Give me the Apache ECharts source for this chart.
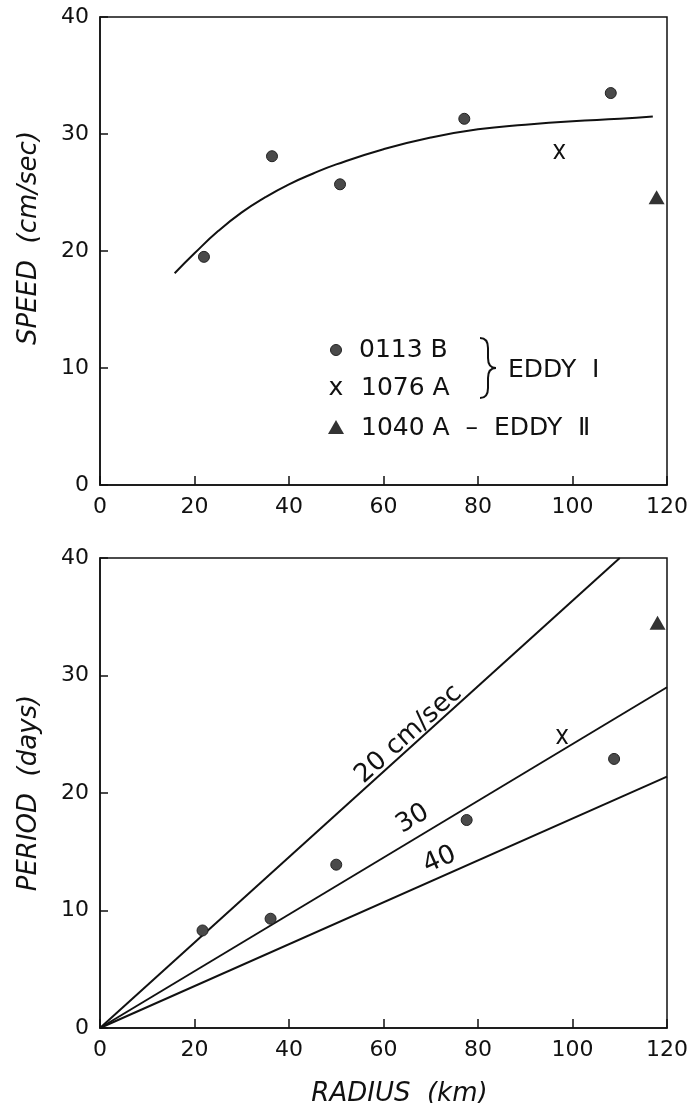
<!DOCTYPE html>
<html>
<head>
<meta charset="utf-8">
<script src="https://cdn.jsdelivr.net/npm/echarts@6/dist/echarts.min.js"></script>
<style>
  html, body { margin: 0; padding: 0; background: #fff; }
  #chart { width: 696px; height: 1103px; }
</style>
</head>
<body>
<div id="chart"></div>
<script>
// top panel: speed vs radius
var speedCurve = [[15.8,18.1],[20,19.8],[25,21.7],[30,23.3],[35,24.6],[40,25.7],[45,26.6],[50,27.4],
  [60,28.7],[70,29.7],[80,30.4],[90,30.8],[100,31.1],[110,31.3],[117,31.5]];
var speed0113B = [[22.0,19.5],[36.4,28.1],[50.8,25.7],[77.1,31.3],[108.1,33.5]];
var speed1076A = [[97.2,28.5]];
var speed1040A = [[117.8,24.6]];

// bottom panel: period vs radius
var period0113B = [[21.7,8.3],[36.1,9.3],[50.0,13.9],[77.6,17.7],[108.8,22.9]];
var period1076A = [[97.8,24.8]];
var period1040A = [[118.0,34.5]];
var line20 = [[0,0],[110,40]];
var line30 = [[0,0],[120,29.0]];
var line40 = [[0,0],[120,21.4]];
var lineLabels = [
  {text: '20 cm/sec', value: [65.3,25.0], angle: 42},
  {text: '30', value: [66.2,17.8], angle: 31},
  {text: '40', value: [71.9,14.3], angle: 24}
];

var FONT = 'DejaVu Sans';
var INK = '#111';
var DOT = '#4a4a4a';
var crossPath = 'path://M0,0 L2.4,0 L6,5 L9.6,0 L12,0 L7.2,6.5 L12,13 L9.6,13 L6,8 L2.4,13 L0,13 L4.8,6.5 Z';

function xAxisCfg(idx, name) {
  return {
    type: 'value', gridIndex: idx, min: 0, max: 120, interval: 20,
    name: name, nameLocation: 'middle', nameGap: 53,
    nameTextStyle: {fontFamily: FONT, fontSize: 26, fontStyle: 'italic', color: INK, padding: [0, 0, 0, 32]},
    axisLine: {show: true, lineStyle: {color: INK, width: 1.5}},
    axisTick: {show: true, inside: true, length: 9, lineStyle: {color: INK, width: 1.5}},
    axisLabel: {fontFamily: FONT, fontSize: 22, color: INK, margin: 11},
    splitLine: {show: false}
  };
}
function yAxisCfg(idx, name, pad) {
  return {
    type: 'value', gridIndex: idx, min: 0, max: 40, interval: 10,
    name: name, nameLocation: 'middle', nameGap: 58,
    nameTextStyle: {fontFamily: FONT, fontSize: 26, fontStyle: 'italic', color: INK, padding: pad},
    axisLine: {show: true, lineStyle: {color: INK, width: 1.5}},
    axisTick: {show: true, inside: true, length: 8, lineStyle: {color: INK, width: 1.5}},
    axisLabel: {fontFamily: FONT, fontSize: 22, color: INK, margin: 11},
    splitLine: {show: false}
  };
}
function dots(xi, data) {
  return {type: 'scatter', xAxisIndex: xi, yAxisIndex: xi, data: data, symbol: 'circle', symbolSize: 11,
    itemStyle: {color: DOT, borderColor: '#222', borderWidth: 1, opacity: 1}, z: 5};
}
function cross(xi, data) {
  return {type: 'scatter', xAxisIndex: xi, yAxisIndex: xi, data: data, symbol: crossPath, symbolSize: [12, 15],
    itemStyle: {color: INK, opacity: 1}, z: 5};
}
function tri(xi, data) {
  return {type: 'scatter', xAxisIndex: xi, yAxisIndex: xi, data: data, symbol: 'triangle', symbolSize: [16, 14],
    itemStyle: {color: '#333', opacity: 1}, z: 5};
}
function straight(data) {
  return {type: 'line', xAxisIndex: 1, yAxisIndex: 1, data: data, symbol: 'none',
    lineStyle: {color: INK, width: 2}, clip: true, z: 3};
}
function curve(x1, y1, cx, cy, x2, y2) {
  return {type: 'bezierCurve', shape: {x1: x1, y1: y1, cpx1: cx, cpy1: cy, x2: x2, y2: y2},
    style: {fill: 'none', stroke: INK, lineWidth: 2}};
}
function seg(x1, y1, x2, y2) {
  return {type: 'line', shape: {x1: x1, y1: y1, x2: x2, y2: y2}, style: {stroke: INK, lineWidth: 2}};
}

var chart = echarts.init(document.getElementById('chart'));
var legendStyle = {fontFamily: FONT, fontSize: 25, fill: INK};

chart.setOption({
  backgroundColor: '#fff',
  animation: false,
  grid: [
    {left: 100, right: 29, top: 17, height: 468, show: true, borderColor: INK, borderWidth: 1.5, outerBoundsMode: 'none'},
    {left: 100, right: 29, top: 558, height: 470, show: true, borderColor: INK, borderWidth: 1.5, outerBoundsMode: 'none'}
  ],
  xAxis: [xAxisCfg(0, ''), xAxisCfg(1, 'RADIUS  (km)')],
  yAxis: [yAxisCfg(0, 'SPEED  (cm/sec)', [0, 0, 0, 26]), yAxisCfg(1, 'PERIOD  (days)', 0)],
  series: [
    {type: 'line', xAxisIndex: 0, yAxisIndex: 0, data: speedCurve, smooth: true, symbol: 'none',
      lineStyle: {color: INK, width: 2}, z: 3},
    dots(0, speed0113B), cross(0, speed1076A), tri(0, speed1040A),
    straight(line20), straight(line30), straight(line40),
    dots(1, period0113B), cross(1, period1076A), tri(1, period1040A),
    {type: 'scatter', xAxisIndex: 1, yAxisIndex: 1, symbolSize: 0, z: 6, itemStyle: {opacity: 1},
      data: lineLabels.map(function (d) {
        return {value: d.value, label: {show: true, formatter: d.text, rotate: d.angle, position: 'inside',
          fontFamily: FONT, fontSize: 26, color: INK}};
      })}
  ],
  graphic: [
    {type: 'circle', shape: {cx: 336, cy: 350, r: 5.5}, style: {fill: DOT, stroke: '#222', lineWidth: 1}},
    {type: 'text', x: 359, y: 350, style: Object.assign({text: '0113 B', verticalAlign: 'middle'}, legendStyle)},
    {type: 'text', x: 336, y: 388, style: Object.assign({text: 'x', align: 'center', verticalAlign: 'middle'}, legendStyle)},
    {type: 'text', x: 361, y: 388, style: Object.assign({text: '1076 A', verticalAlign: 'middle'}, legendStyle)},
    curve(480, 338, 488, 338, 488, 348), seg(488, 348, 488, 358), curve(488, 358, 488, 368, 496, 368),
    curve(496, 368, 488, 368, 488, 378), seg(488, 378, 488, 388), curve(488, 388, 488, 398, 480, 398),
    {type: 'text', x: 508, y: 370, style: Object.assign({text: 'EDDY  Ⅰ', verticalAlign: 'middle'}, legendStyle)},
    {type: 'polygon', shape: {points: [[336, 420], [344, 434], [328, 434]]}, style: {fill: '#333'}},
    {type: 'text', x: 361, y: 428, style: Object.assign({text: '1040 A  –  EDDY  Ⅱ', verticalAlign: 'middle'}, legendStyle)}
  ]
});
</script>
</body>
</html>
